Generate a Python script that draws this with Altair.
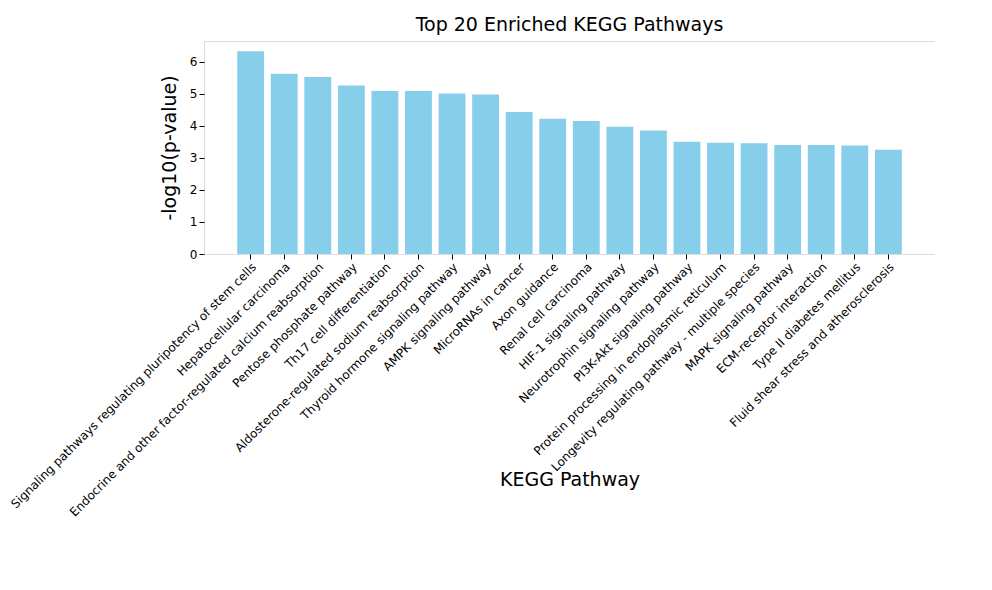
import altair as alt
import pandas as pd

pathways = [
    "Signaling pathways regulating pluripotency of stem cells",
    "Hepatocellular carcinoma",
    "Endocrine and other factor-regulated calcium reabsorption",
    "Pentose phosphate pathway",
    "Th17 cell differentiation",
    "Aldosterone-regulated sodium reabsorption",
    "Thyroid hormone signaling pathway",
    "AMPK signaling pathway",
    "MicroRNAs in cancer",
    "Axon guidance",
    "Renal cell carcinoma",
    "HIF-1 signaling pathway",
    "Neurotrophin signaling pathway",
    "PI3K-Akt signaling pathway",
    "Protein processing in endoplasmic reticulum",
    "Longevity regulating pathway - multiple species",
    "MAPK signaling pathway",
    "ECM-receptor interaction",
    "Type II diabetes mellitus",
    "Fluid shear stress and atherosclerosis",
]
neg_log_p = [6.32, 5.62, 5.52, 5.25, 5.08, 5.08, 5.0, 4.97, 4.43, 4.22,
             4.15, 3.97, 3.85, 3.5, 3.47, 3.45, 3.4, 3.4, 3.38, 3.25]

data = pd.DataFrame({"pathway": pathways, "value": neg_log_p})

chart = alt.Chart(data).mark_bar(color="#87CEEB").encode(
    x=alt.X("pathway:N", sort=pathways,
            scale=alt.Scale(paddingInner=0.2, paddingOuter=0.99),
            axis=alt.Axis(title="KEGG Pathway", labelAngle=-45, labelAlign="right",
                          labelBaseline="top", labelFontSize=12, titleFontSize=19,
                          titleFontWeight="normal", labelLimit=500, titlePadding=16,
                          labelPadding=2, tickColor="black", labelColor="black",
                          domain=False)),
    y=alt.Y("value:Q", scale=alt.Scale(domain=[0, 6.64], nice=False),
            axis=alt.Axis(title="-log10(p-value)", values=[0, 1, 2, 3, 4, 5, 6],
                          grid=False, labelFontSize=12, titleFontSize=19,
                          titleFontWeight="normal", tickColor="black",
                          labelColor="black", domain=False, titlePadding=10)),
).properties(
    width=731,
    height=213,
    title=alt.TitleParams("Top 20 Enriched KEGG Pathways", fontSize=19,
                          fontWeight="normal", offset=6),
    padding={"left": 0, "top": 8, "right": 0, "bottom": 0},
).configure_view(
    stroke="black", strokeWidth=1
).configure(font="DejaVu Sans")

chart.save("out.html", embed_options={"renderer": "svg", "actions": False})
